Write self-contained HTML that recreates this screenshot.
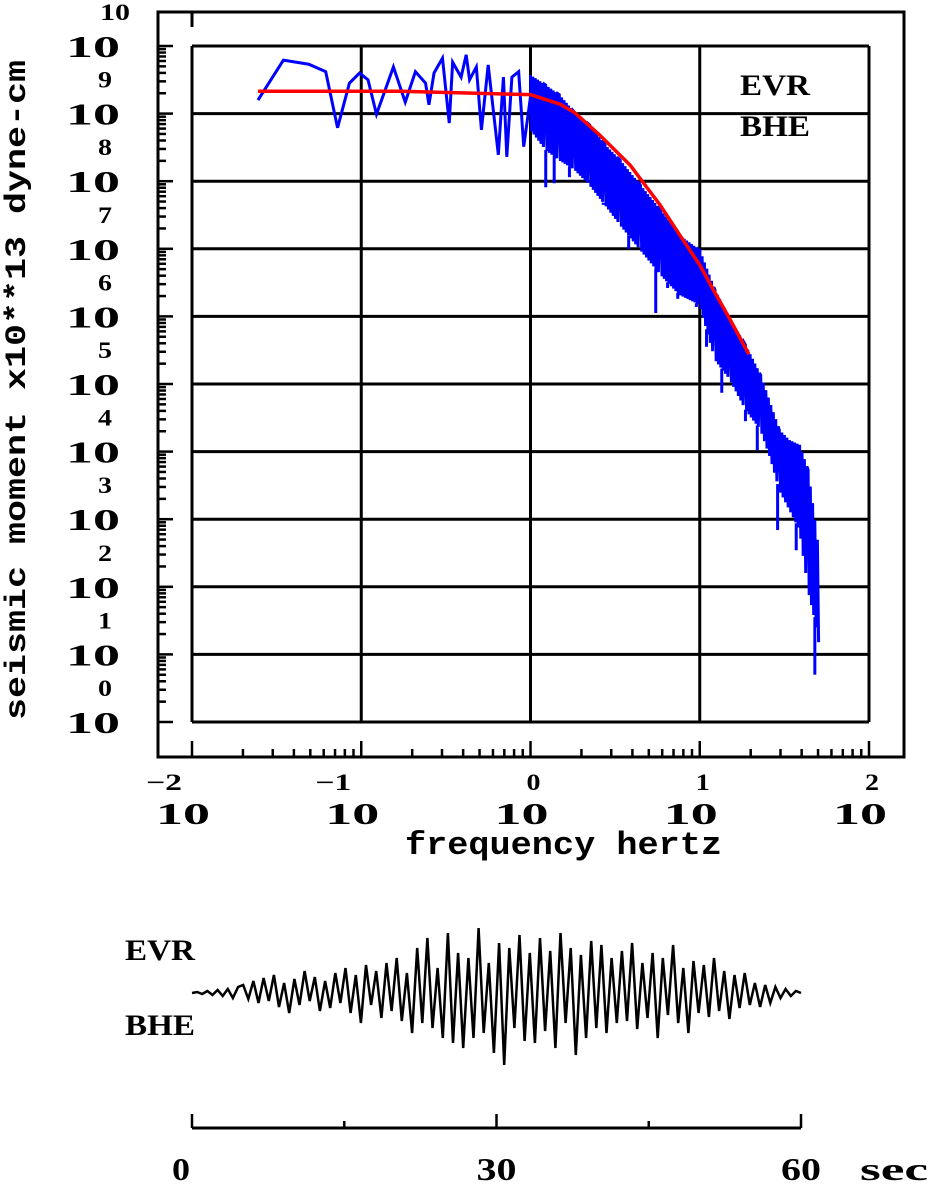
<!DOCTYPE html>
<html><head><meta charset="utf-8"><style>
html,body{margin:0;padding:0;background:#fff;}
svg{display:block;}
text{font-family:"Liberation Serif",serif;font-weight:bold;fill:#000;}
.mono{font-family:"Liberation Mono",monospace;font-weight:bold;}
</style></head><body>
<svg id="chart" width="928" height="1184" viewBox="0 0 928 1184" xmlns="http://www.w3.org/2000/svg">
<rect width="928" height="1184" fill="#fff"/>
<g id="grid"></g>
<g id="series"></g>
<g id="axes"></g>
<g id="labels"></g>
<g id="seis"></g>
</svg>
<script>
// ---- spectrum data (log10 frequency Hz, log10 moment) ----
const lowF = [-1.61,-1.46,-1.31,-1.21,-1.14,-1.07,-1.01,-0.96,-0.91,-0.81,-0.74,-0.68,-0.62,-0.60,-0.57,-0.52,-0.48,-0.46,-0.41,-0.38,-0.36,-0.32,-0.29,-0.25,-0.19,-0.16,-0.14,-0.11,-0.07,-0.04,0.0];
const lowM = [9.20,9.79,9.73,9.62,8.79,9.45,9.60,9.50,8.99,9.69,9.17,9.62,9.45,9.13,9.60,9.82,8.86,9.76,9.54,9.87,9.50,9.69,8.76,9.72,8.39,9.54,8.36,9.54,9.62,8.51,9.25];
const bandF  = [0.00,0.09,0.17,0.26,0.35,0.44,0.53,0.65,0.77,0.88,1.00,1.09,1.18,1.27,1.36,1.42,1.47,1.53,1.59,1.64,1.68,1.71];
const bandHi = [9.57,9.42,9.28,9.02,8.83,8.54,8.31,7.94,7.57,7.20,6.98,6.39,5.95,5.58,5.13,4.69,4.32,4.17,4.10,3.73,2.99,2.40];
const bandLo = [8.76,8.46,8.31,8.17,7.94,7.65,7.35,6.98,6.61,6.32,6.17,5.36,5.06,4.62,4.32,3.88,3.43,3.14,2.84,1.95,1.51,1.07];
const spikeF = [0.09,0.14,0.23,0.43,0.58,0.74,0.81,0.87,0.98,1.04,1.13,1.27,1.34,1.46,1.57,1.68,1.68];
const spikeM = [7.91,7.97,8.06,7.65,7.00,6.05,6.42,6.26,6.14,5.55,4.87,4.45,4.02,2.84,2.54,1.55,0.70];
const modelF = [-1.61,-0.77,0.0,0.174,0.263,0.41,0.588,0.765,0.883,1.0,1.09,1.18,1.29];
const modelM = [9.33,9.33,9.28,9.14,9.01,8.68,8.24,7.65,7.20,6.76,6.35,5.95,5.44];
const xTickExp = [-2,-1,0,1,2];
const yTickExp = [0,1,2,3,4,5,6,7,8,9,10];
// ---- seismogram (amplitude, 0.5 s samples over 60 s) ----
const seisAmp = [0,1,-1,2,-2,3,-3,4,-5,6, 8,-6,12,-10,15,-8,18,-14,10,-20, 14,-12,22,-8,16,-18,12,-15,20,-10,
 25,-20,18,-30,28,-12,22,-25,30,-18, 35,-28,20,-40,45,-30,55,-35,25,-45, 60,-50,40,-55,35,-45,65,-40,30,-60,
 50,-72,45,-35,58,-48,40,-50,55,-38, 42,-55,60,-30,45,-62,38,-45,52,-35, 48,-40,35,-30,42,-28,50,-36,30,-25,
 40,-45,35,-22,48,-30,25,-40,32,-20, 28,-24,35,-18,22,-26,18,-15,20,-12, 10,-14,8,-10,6,-5,4,-3,2,0];
const timeTicks = [0,30,60];

const NS="http://www.w3.org/2000/svg";
function mk(tag, attrs, parent){const e=document.createElementNS(NS,tag);for(const k in attrs)e.setAttribute(k,attrs[k]);parent.appendChild(e);return e;}
const X0=192, X1=869, Y0=46, Y1=722;
const xs = lf => X0 + (lf+2)*(X1-X0)/4;
const ys = lm => Y1 - lm*(Y1-Y0)/10;
const grid=document.getElementById('grid'), series=document.getElementById('series'),
      axes=document.getElementById('axes'), labels=document.getElementById('labels'), seis=document.getElementById('seis');

yTickExp.forEach(e=>{const l=mk('line',{x1:X0,x2:X1,y1:ys(e),y2:ys(e),stroke:'#000','stroke-width':3},grid);

});
xTickExp.forEach(e=>{const l=mk('line',{x1:xs(e),x2:xs(e),y1:Y0,y2:Y1,stroke:'#000','stroke-width':3},grid);

});

const fr=mk('rect',{x:158,y:12,width:746,height:745,fill:'none',stroke:'#000','stroke-width':3},axes);


mk('line',{x1:X0,x2:X0,y1:12,y2:27,stroke:'#000','stroke-width':3},axes);
for(let d=0; d<10; d++){ for(let k=1;k<=9;k++){ const y=ys(d+Math.log10(k)); const len=k===1?15:8;
  mk('line',{x1:158,x2:158+len,y1:y,y2:y,stroke:'#000','stroke-width':2.5},axes);} }
mk('line',{x1:158,x2:173,y1:ys(10),y2:ys(10),stroke:'#000','stroke-width':2.5},axes);
for(let d=-2; d<2; d++){ for(let k=1;k<=9;k++){ const x=xs(d+Math.log10(k)); const len=k===1?16:8;
  mk('line',{x1:x,x2:x,y1:757,y2:757-len,stroke:'#000','stroke-width':2.5},axes);} }
mk('line',{x1:xs(2),x2:xs(2),y1:757,y2:741,stroke:'#000','stroke-width':2.5},axes);

let d='';
for(let i=0;i<bandF.length-1;i++){
  const xa=xs(bandF[i]), xb=xs(bandF[i+1]); const n=Math.max(2,Math.round((xb-xa)/1.2));
  for(let j=0;j<n;j++){ const t=j/n; const x=xa+(xb-xa)*t;
    const hi=bandHi[i]+(bandHi[i+1]-bandHi[i])*t, lo=bandLo[i]+(bandLo[i+1]-bandLo[i])*t;
    d+=(d?'L':'M')+x.toFixed(1)+','+ys(j%2?lo:hi).toFixed(1); }
}
const band=mk('path',{d:d,fill:'none',stroke:'#0000ff','stroke-width':3},series);


spikeF.forEach((f,i)=>{ const j=bandF.findIndex(v=>v>=f); const k=Math.max(1,j);
  const t=(f-bandF[k-1])/(bandF[k]-bandF[k-1]); const lo=bandLo[k-1]+(bandLo[k]-bandLo[k-1])*t;
  const s=mk('line',{x1:xs(f),x2:xs(f),y1:ys(lo),y2:ys(spikeM[i]),stroke:'#0000ff','stroke-width':3},series);
  
  });
const low=mk('polyline',{points:lowF.map((f,i)=>xs(f)+','+ys(lowM[i])).join(' '),fill:'none',stroke:'#0000ff','stroke-width':3},series);


const model=mk('polyline',{points:modelF.map((f,i)=>xs(f)+','+ys(modelM[i])).join(' '),fill:'none',stroke:'#ff0000','stroke-width':3.5},series);



yTickExp.forEach(e=>{ const y=ys(e);
  const t=mk('text',{x:66,y:y+11,'font-size':31,textLength:54,lengthAdjust:'spacingAndGlyphs'},labels); t.textContent='10';
  
  
  const s=mk('text',{x:e===10?100:98,y:y-26,'font-size':23,textLength:e===10?30:14,lengthAdjust:'spacingAndGlyphs'},labels); s.textContent=String(e);
  
  });
xTickExp.forEach(e=>{ const x=xs(e);
  const t=mk('text',{x:x-36,y:824,'font-size':31,textLength:54,lengthAdjust:'spacingAndGlyphs'},labels); t.textContent='10';
  
  
  const s=mk('text',{x:e<0?x-46:x-4,y:790,'font-size':23,textLength:e<0?36:14,lengthAdjust:'spacingAndGlyphs'},labels); s.textContent=(e<0?'\u2212':'')+Math.abs(e);
  
  });
const xt=mk('text',{x:405,y:854,'font-size':32,'textLength':317,'lengthAdjust':'spacingAndGlyphs','class':'mono'},labels); xt.textContent='frequency  hertz';


const yt=mk('text',{x:0,y:0,'font-size':30,'textLength':660,'lengthAdjust':'spacingAndGlyphs','class':'mono',transform:'translate(25,720) rotate(-90)'},labels); yt.textContent='seismic moment x10**13 dyne-cm';


[['EVR',95],['BHE',136]].forEach(([s,y])=>{const t=mk('text',{x:740,y:y,'font-size':30,textLength:70,lengthAdjust:'spacingAndGlyphs'},labels);t.textContent=s;
 
 });

const SX0=192, SX1=801, BASE=993;
const tx = t => SX0 + t*(SX1-SX0)/60;
const pts=seisAmp.map((a,i)=>tx(i*60/(seisAmp.length-1)).toFixed(1)+','+(BASE-a).toFixed(1)).join(' ');
const tr=mk('polyline',{points:pts,fill:'none',stroke:'#000','stroke-width':2.5},seis);


[['EVR',960],['BHE',1035]].forEach(([s,y])=>{const t=mk('text',{x:125,y:y,'font-size':30,textLength:70,lengthAdjust:'spacingAndGlyphs'},seis);t.textContent=s;
 
 });
const ax=mk('line',{x1:SX0,x2:SX1,y1:1128,y2:1128,stroke:'#000','stroke-width':3},seis);


[0,15,30,45,60].forEach(t=>mk('line',{x1:tx(t),x2:tx(t),y1:1128,y2:t%30?1121:1114,stroke:'#000','stroke-width':2.5},seis));
timeTicks.forEach(t=>{const w=t===0?18:40; const x0=t===0?172:tx(t)-20;
 const l=mk('text',{x:x0,y:1180,'font-size':32,'font-family':'Liberation Sans, sans-serif',textLength:w,lengthAdjust:'spacingAndGlyphs'},seis);l.textContent=String(t);
 
 });
const sec=mk('text',{x:860,y:1180,'font-size':32,'font-family':'Liberation Sans, sans-serif',textLength:68,lengthAdjust:'spacingAndGlyphs'},seis);sec.textContent='sec';


</script>
</body></html>
